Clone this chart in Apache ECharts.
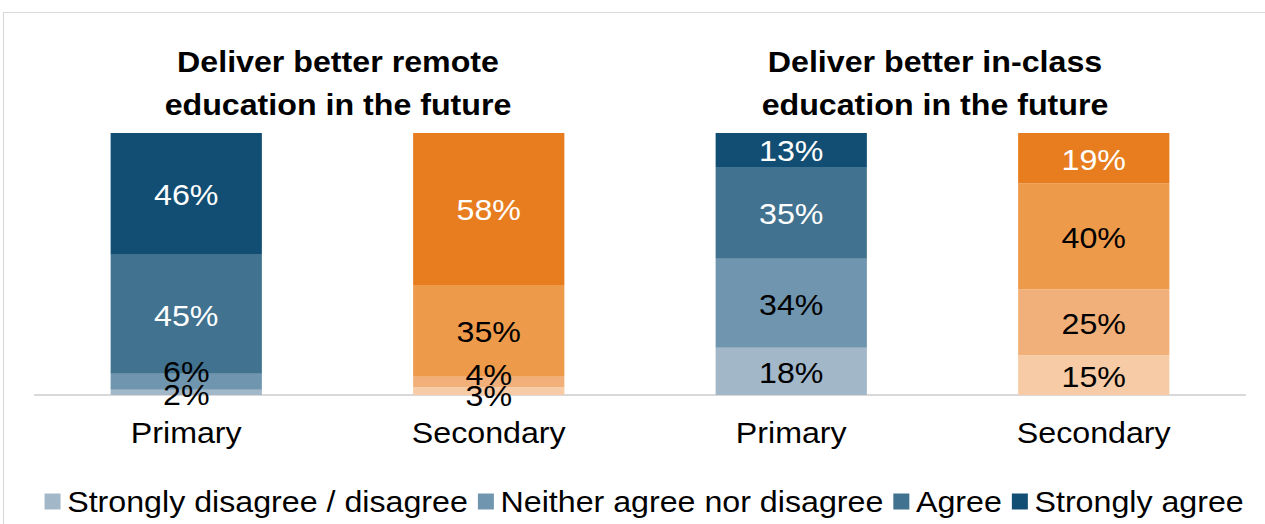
<!DOCTYPE html>
<html>
<head>
<meta charset="utf-8">
<script src="https://cdn.jsdelivr.net/npm/echarts@6/dist/echarts.min.js"></script>
<style>
html,body{margin:0;padding:0;background:#fff;overflow:hidden;}
#wrap{width:1265px;height:524px;overflow:hidden;}
#chart{width:1140px;height:524px;transform:scaleX(1.109649);transform-origin:0 0;}
</style>
</head>
<body>
<div id="wrap"><div id="chart"></div></div>
<script>
// ---- data ----
const categories = ['Primary', 'Secondary', 'Primary', 'Secondary'];
const groupTitles = ['Deliver better remote\neducation in the future', 'Deliver better in-class\neducation in the future'];
const seriesNames = ['Strongly disagree / disagree', 'Neither agree nor disagree', 'Agree', 'Strongly agree'];
const stronglyDisagree = [2, 3, 18, 15];
const neither = [6, 4, 34, 25];
const agree = [45, 35, 35, 40];
const stronglyAgree = [46, 58, 13, 19];

// ---- styling ----
const S = 1265 / 1140; // horizontal stretch of the reference picture
const blues = ['#a2b8c9', '#7096af', '#41728f', '#124e73'];
const oranges = ['#f6cba5', '#f1b079', '#ee9a4b', '#e77d1f'];
const FONT = 'Liberation Sans, Arial, sans-serif';
const allSeries = [stronglyDisagree, neither, agree, stronglyAgree];
const totals = categories.map((c, i) => allSeries.reduce((s, arr) => s + arr[i], 0));

function labelColor(si, ci) {
  const isOrange = ci % 2 === 1;
  if (si === 3) return '#ffffff';
  if (si === 2 && !isOrange) return '#ffffff';
  return '#000000';
}
function labelOffset(si, ci) {
  const v = allSeries[si][ci];
  const orange = ci % 2 === 1;
  if (v >= 8) return [0, 1];
  if (si === 0) return [0, orange ? 5 : 2];
  return [0, orange ? -7 : -10];
}

const series = allSeries.map((arr, si) => ({
  name: seriesNames[si],
  type: 'bar',
  stack: 'total',
  barCategoryGap: '50%',
  itemStyle: { color: blues[si] },
  data: arr.map((v, ci) => ({
    value: v / totals[ci] * 100,
    itemStyle: { color: ci % 2 === 1 ? oranges[si] : blues[si] },
    label: {
      show: true,
      position: 'inside',
      color: labelColor(si, ci),
      offset: labelOffset(si, ci),
      fontSize: 29,
      fontFamily: FONT,
      formatter: () => v + '%'
    }
  }))
}));

const chart = echarts.init(document.getElementById('chart'), null, { renderer: 'svg' });
chart.setOption({
  animation: false,
  backgroundColor: '#ffffff',
  grid: { left: 35 / S, right: 20 / S, top: 133, bottom: 129, containLabel: false },
  xAxis: {
    type: 'category',
    data: categories,
    axisLine: { lineStyle: { color: '#d9d9d9', width: 2 } },
    axisTick: { show: false },
    axisLabel: { color: '#000', fontSize: 29, fontFamily: FONT, margin: 23, interval: 0 }
  },
  yAxis: { type: 'value', min: 0, max: 100, show: false },
  legend: {
    bottom: 3,
    left: 39 / S,
    icon: 'rect',
    itemWidth: 16 / S,
    itemHeight: 16,
    itemGap: 9,
    textStyle: { fontSize: 29, fontFamily: FONT, color: '#000', padding: [0, 0, 0, 1] },
    data: seriesNames
  },
  graphic: [
    { type: 'rect', silent: true, shape: { x: 3.5 / S, y: 12.5, width: 1300, height: 600 },
      style: { fill: 'none', stroke: '#d9d9d9', lineWidth: 1 } },
    { type: 'text', x: 338 / S, y: 83, style: { text: groupTitles[0], align: 'center', verticalAlign: 'middle',
      font: 'bold 29px ' + FONT, fill: '#000', lineHeight: 43 } },
    { type: 'text', x: 935 / S, y: 83, style: { text: groupTitles[1], align: 'center', verticalAlign: 'middle',
      font: 'bold 29px ' + FONT, fill: '#000', lineHeight: 43 } }
  ],
  series: series
});
</script>
</body>
</html>
